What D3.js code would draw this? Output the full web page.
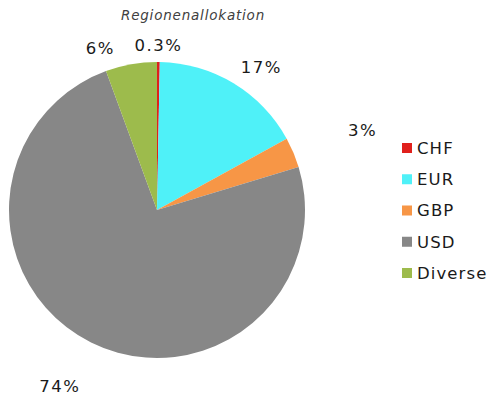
<!DOCTYPE html>
<html><head><meta charset="utf-8">
<script src="https://cdn.jsdelivr.net/npm/d3@7"></script>
<style>body{margin:0;background:#fff}svg{display:block}</style>
</head><body>
<svg id="c" width="489" height="403"></svg>
<script>
const categories = ["CHF","EUR","GBP","USD","Diverse"];
const values = [0.3, 16.7, 3.3, 74.1, 5.6];
const labels = ["0.3%","17%","3%","74%","6%"];
const colors = ["#e0201c","#4ff1f8","#f79646","#878787","#9dbb4c"];
const title = "Regionenallokation";

// label layout: [angle offset in degrees from slice middle, radius factor]
const labelLayout = [[0, 1.115],[5, 1.195],[1.7, 1.49],[2.4, 1.36],[-9.2, 1.16]];

const svg = d3.select("#c");
const cx = 157, cy = 210, R = 148;
const font = "'DejaVu Sans', Verdana, sans-serif";

svg.append("text").attr("x", 193).attr("y", 20).attr("text-anchor","middle")
  .attr("font-family", font).attr("font-style","italic").attr("font-size", 13.5)
  .attr("letter-spacing", 0.8).attr("fill","#404040").text(title);

const pie = d3.pie().sort(null).value(d => d)(values);
const arc = d3.arc().innerRadius(0).outerRadius(R);
const g = svg.append("g").attr("transform", `translate(${cx},${cy})`);
g.selectAll("path").data(pie).join("path")
  .attr("d", arc).attr("fill", (d,i) => colors[i]);

g.selectAll("text.lbl").data(pie).join("text").attr("class","lbl")
  .attr("x", (d,i) => { const a = ((d.startAngle+d.endAngle)/2) + labelLayout[i][0]*Math.PI/180; return Math.sin(a)*R*labelLayout[i][1]; })
  .attr("y", (d,i) => { const a = ((d.startAngle+d.endAngle)/2) + labelLayout[i][0]*Math.PI/180; return -Math.cos(a)*R*labelLayout[i][1]; })
  .attr("dy","0.35em").attr("text-anchor","middle")
  .attr("font-family", font).attr("font-size", 16.5).attr("letter-spacing", 1.5).attr("fill","#1a1a1a")
  .text((d,i) => labels[i]);

const ly = d3.scalePoint().domain(categories).range([148, 273]);
const leg = svg.append("g");
leg.selectAll("rect").data(categories).join("rect")
  .attr("x", 402).attr("y", d => ly(d) - 5).attr("width", 10).attr("height", 10)
  .attr("fill", (d,i) => colors[i]);
leg.selectAll("text").data(categories).join("text")
  .attr("x", 417).attr("y", d => ly(d)).attr("dy","0.36em")
  .attr("font-family", font).attr("font-size", 16.5).attr("letter-spacing", 1.1).attr("fill","#1a1a1a")
  .text(d => d);
</script>
</body></html>
